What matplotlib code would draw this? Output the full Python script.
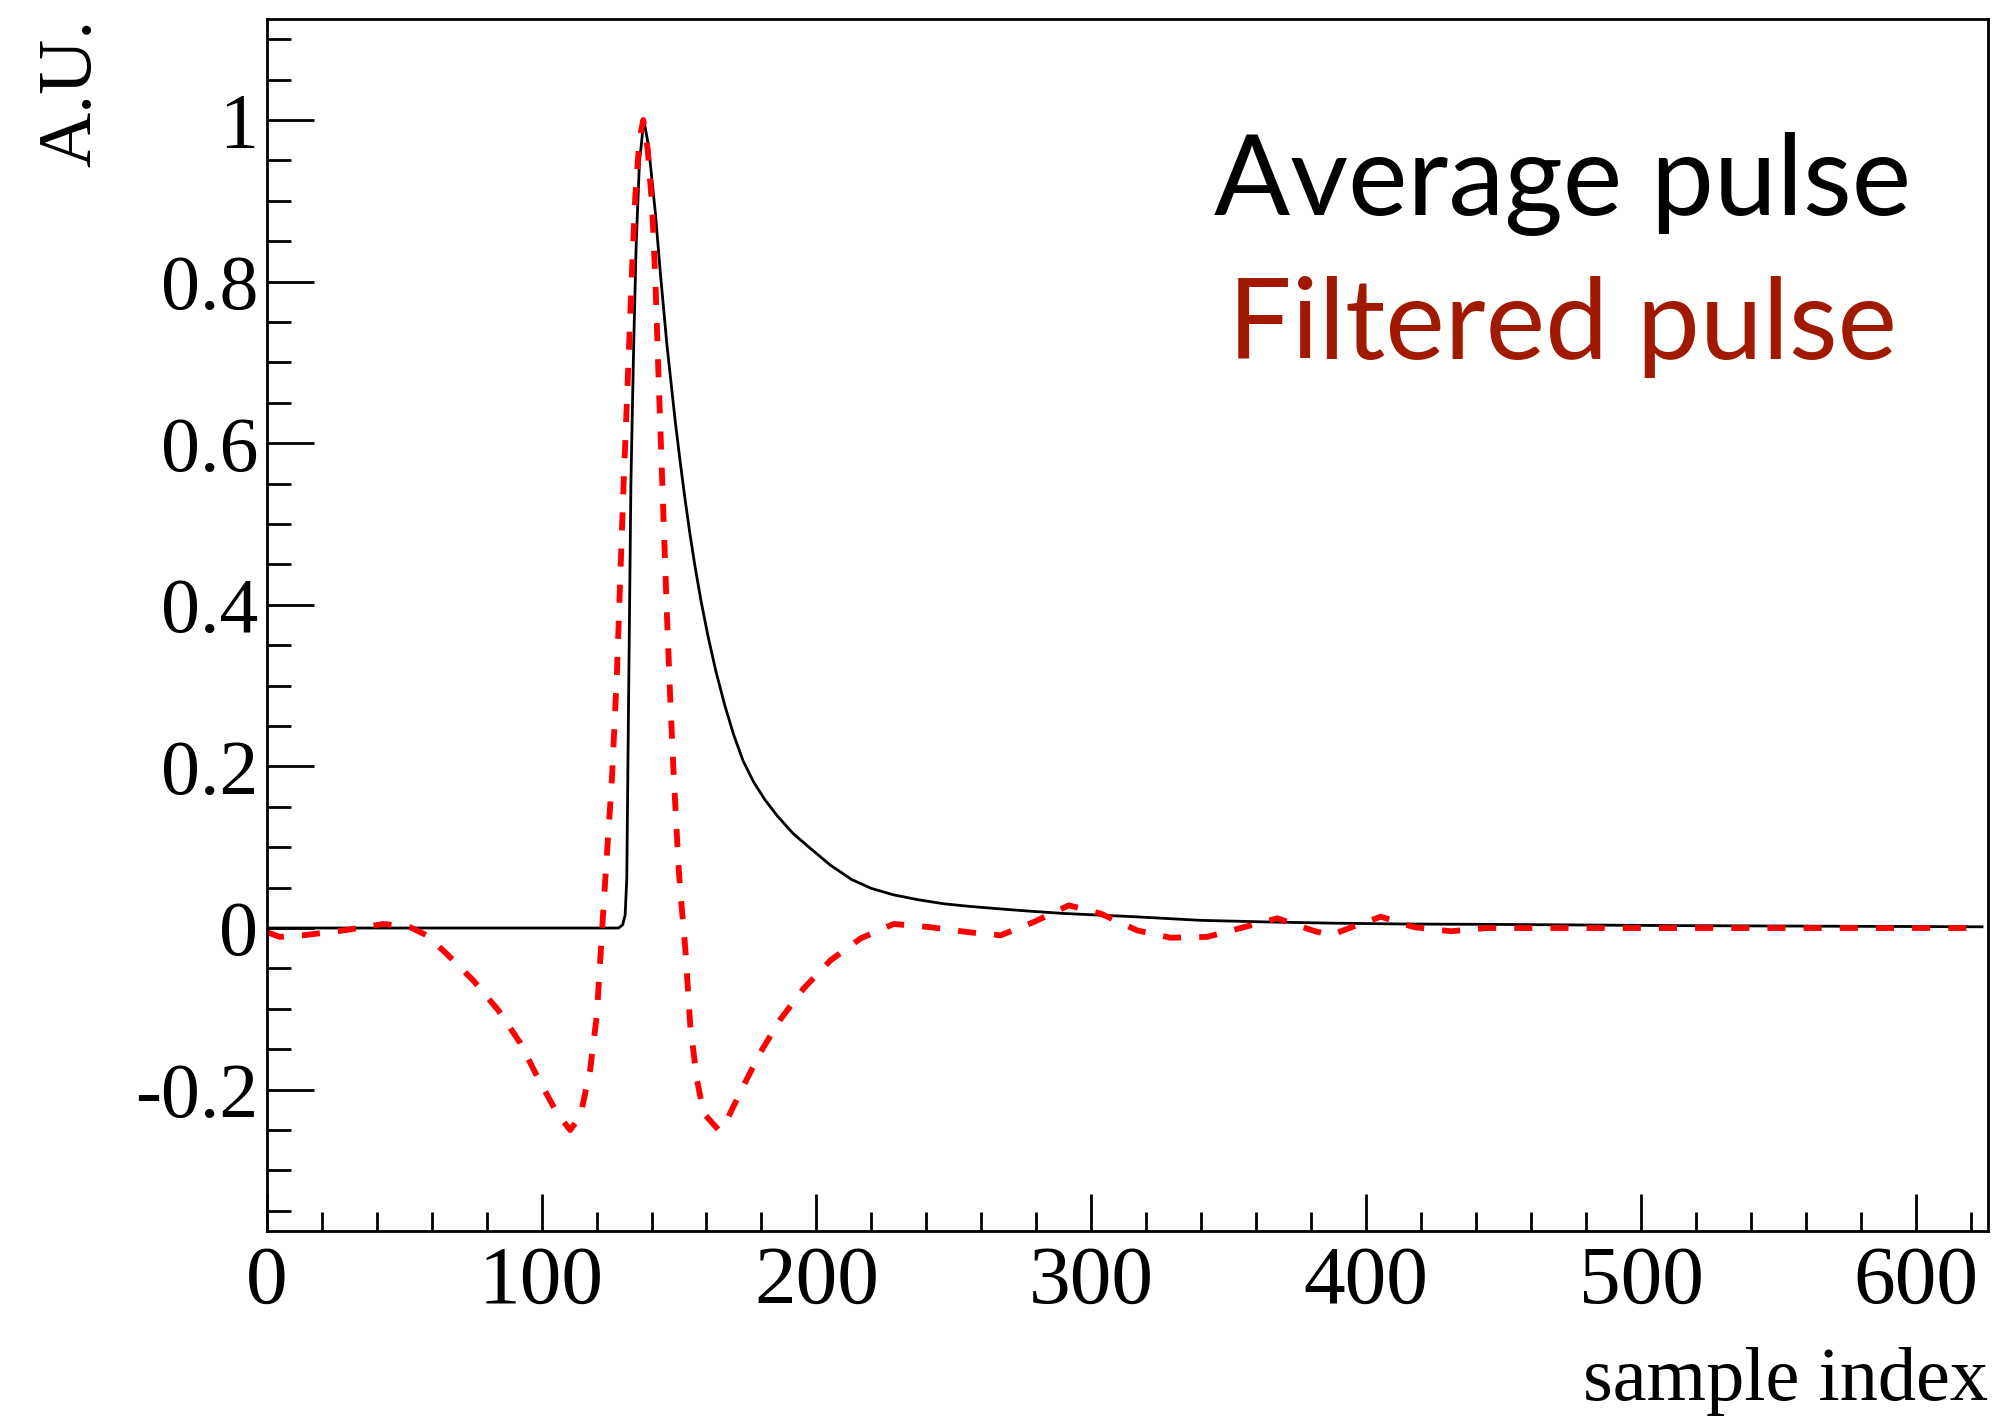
import matplotlib
matplotlib.use("Agg")
import matplotlib.pyplot as plt
from matplotlib.ticker import MultipleLocator, FuncFormatter

plt.rcParams['axes.unicode_minus'] = False

# average pulse (black)
avg_x = [0, 128, 129.5, 130.4, 131.0, 131.6, 132.5, 133.5, 134.4, 135.6, 137.2,
         138.9, 141.4, 143.2, 145.6, 148.6, 150.5, 152.3, 154.1, 155.8, 158.0,
         160.5, 163.4, 166.7, 169.9, 173.3, 177.1, 181.2, 185.7, 191.5,
         197.8, 205.0, 212.8, 220.0, 228.1, 237.0, 246.3, 255.0, 265.5, 277.0,
         290.0, 315.5, 339.8, 364.0, 388.3, 412.6, 446, 512, 624]
avg_y = [0, 0, 0.004, 0.016, 0.061, 0.264, 0.550, 0.720, 0.844, 0.947, 1.0,
         0.968, 0.885, 0.811, 0.722, 0.628, 0.575, 0.528, 0.485, 0.448, 0.405,
         0.362, 0.318, 0.275, 0.239, 0.207, 0.181, 0.159, 0.139, 0.117,
         0.0985, 0.078, 0.060, 0.049, 0.041, 0.035, 0.030, 0.027, 0.024, 0.021,
         0.018, 0.014, 0.0095, 0.0075, 0.006, 0.005, 0.0045, 0.003, 0.0015]

# filtered pulse (red dashed)
filt_x = [0, 4.8, 13.3, 27.9, 42.5, 52.2, 58.2, 65.5, 75.2, 84.3, 92.2, 98.9,
          105.6, 110.4, 114.1, 117.7, 120.1, 121.3, 122.5, 123.2, 125.6, 127.4,
          128.6, 129.8, 131.6, 132.9, 134.1, 135.6, 137.0, 138.6, 140.2, 141.4,
          142.6, 143.8, 145.6, 146.8, 148.0, 149.8, 150.5, 152.3, 154.1, 156.5,
          158.9, 164.4, 167.5, 173.5, 179.6, 186.9, 195.3, 205.1, 216.0, 228.1,
          241.5, 254.8, 267.0, 279.1, 291.8, 303.3, 316.7, 328.8, 342.1, 355.5,
          367.7, 380.4, 387.1, 393.1, 405.3, 417.4, 430.8, 444.1, 624]
filt_y = [-0.005, -0.011, -0.009, -0.003, 0.005, 0.001, -0.009, -0.032, -0.065,
          -0.102, -0.142, -0.187, -0.229, -0.25, -0.233, -0.175, -0.108, -0.042,
          0.024, 0.061, 0.185, 0.314, 0.430, 0.546, 0.699, 0.815, 0.906, 0.976,
          1.0, 0.964, 0.894, 0.802, 0.678, 0.562, 0.388, 0.285, 0.194, 0.078,
          0.045, -0.026, -0.121, -0.187, -0.229, -0.25, -0.237, -0.195, -0.154,
          -0.113, -0.075, -0.040, -0.013, 0.005, 0.001, -0.005, -0.009, 0.0075,
          0.028, 0.018, -0.003, -0.012, -0.011, 0.001, 0.012, -0.003, -0.009,
          -0.001, 0.014, 0.001, -0.004, 0.0, 0.0]

labels = ['Average pulse', 'Filtered pulse']
label_colors = ['black', '#a01900']
label_y = [0.8383, 0.7195]

serif = 'Liberation Serif'

fig = plt.figure(figsize=(20.08, 14.21), dpi=100)
ax = fig.add_axes([0.1328, 0.1337, 0.857, 0.8529])

ax.plot(avg_x, avg_y, color='black', lw=2.0)
ax.plot(filt_x, filt_y, color='#ff0000', lw=4.2, dashes=(3.1, 3.1))

ax.set_xlim(0, 626)
ax.set_ylim(-0.375, 1.125)

ax.xaxis.set_major_locator(MultipleLocator(100))
ax.xaxis.set_minor_locator(MultipleLocator(20))
ax.yaxis.set_major_locator(MultipleLocator(0.2))
ax.yaxis.set_minor_locator(MultipleLocator(0.05))
ax.yaxis.set_major_formatter(FuncFormatter(lambda v, p: '%g' % round(v, 3)))

for s in ax.spines.values():
    s.set_linewidth(2.0)

ax.tick_params(axis='both', which='both', direction='in', width=2.0,
               top=False, right=False)
ax.tick_params(axis='y', which='major', length=34, pad=6, labelsize=56)
ax.tick_params(axis='y', which='minor', length=17)
ax.tick_params(axis='x', which='major', length=27, pad=10, labelsize=60)
ax.tick_params(axis='x', which='minor', length=14)
for lab in ax.get_xticklabels() + ax.get_yticklabels():
    lab.set_family(serif)

ax.set_ylabel('A.U.', family=serif, fontsize=55)
ax.yaxis.label.set(ha='center', va='top', rotation_mode='default')
ax.yaxis.set_label_coords(-0.1133, 1.0)

ax.set_xlabel('sample index', family=serif, fontsize=55, loc='right')
ax.xaxis.set_label_coords(1.0, -0.096)

for txt, col, yy in zip(labels, label_colors, label_y):
    ax.text(0.7533, yy, txt, color=col, fontsize=81,
            family='Lato', ha='center', va='baseline', transform=ax.transAxes)

fig.savefig('out.png', dpi=100)
